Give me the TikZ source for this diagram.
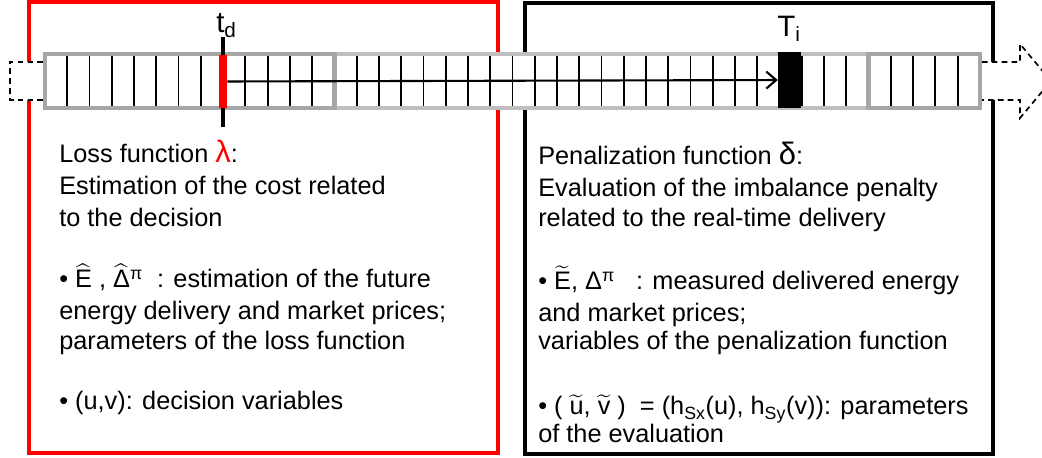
\documentclass[tikz,border=0pt]{standalone}
\usepackage{amsmath}
\usepackage{fontspec}
\setmainfont{Liberation Sans}
\usetikzlibrary{arrows.meta}
\definecolor{barDark}{HTML}{A6A6A6}
\definecolor{barLight}{HTML}{BFBFBF}
\newcommand{\hatsym}[1]{$\widehat{\text{#1}}$}
\newcommand{\tildesym}[1]{$\widetilde{\text{#1}}$}
\newcommand{\bigsym}[1]{{\fontsize{22}{22}\selectfont #1}}

\begin{document}
\begin{tikzpicture}[x=0.025cm, y=-0.025cm,
    txt/.style={anchor=base west, inner sep=0pt, font=\fontsize{18}{22}\selectfont},
    lbl/.style={anchor=base west, inner sep=0pt, font=\fontsize{21}{24}\selectfont},
    frame/.style={line width=2.6pt},
    cellline/.style={line width=1.3pt},
    barline/.style={line width=3.3pt},
    tail/.style={fill=white, draw=black, line width=1.2pt, dash pattern=on 4pt off 3pt}]
    \clip (0,0) rectangle (1042,458);
    % decision phase and delivery phase
    \draw[frame, red] (29,2) rectangle (498,453);
    \draw[frame] (525,3) rectangle (993,454);
    % time line
    \fill[white] (45,54) rectangle (980,108);
    \foreach \i in {1,...,41}
      \draw[cellline] (45+\i*22.26,56) -- (45+\i*22.26,106);
    \draw[barline, barLight] (334.4,54) rectangle (868.6,108);
    \draw[barline, barDark] (45,54) rectangle (334.4,108);
    \draw[barline, barDark] (868.6,54) rectangle (980,108);
    \draw[line width=3.2pt] (223,37) -- (223,127);
    \node[fill=red, inner sep=0pt, minimum width=0.2cm, minimum height=1.325cm] (td) at (223,81.5) {};
    \node[fill=black, inner sep=0pt, minimum width=0.575cm, minimum height=1.4cm] (Ti) at (789.6,80) {};
    \draw[line width=1.5pt, -{Straight Barb[length=7pt, width=12pt]}] (td) -- (Ti);
    \node[lbl] (tdlbl) at (216,33) {t\textsubscript{d}};
    \node[lbl] (Tilbl) at (777,37) {T\textsubscript{i}};
    % before and after
    \filldraw[tail] (43,62) -- (10,62) -- (10,100) -- (43,100);
    \filldraw[tail] (982,62) -- (1020,62) -- (1020,44) -- (1051,81) -- (1020,118) -- (1020,100) -- (982,100);
    % texts
    \foreach \y/\words [count=\n] in {
        163/{Loss function \bigsym{\color{red}λ}:},
        195/{Estimation of the cost related},
        227/{to the decision},
        288/{• \hatsym{E} , \hatsym{Δ}$^{\text{π}}$\ \ : estimation of the future},
        320/{energy delivery and market prices;},
        350/{parameters of the loss function},
        410/{• (u,v): decision variables}}
      \node[txt] (loss-\n) at (59,\y) {\words};
    \foreach \y/\words [count=\n] in {
        165/{Penalization function \bigsym{δ}:},
        197/{Evaluation of the imbalance penalty},
        227/{related to the real-time delivery},
        290/{• \tildesym{E}, Δ$^{\text{π}}$\ \ \ : measured delivered energy},
        322/{and market prices;},
        350/{variables of the penalization function},
        415/{• ( \tildesym{u}, \tildesym{v} )\ \ = (h\textsubscript{Sx}(u), h\textsubscript{Sy}(v)): parameters},
        443/{of the evaluation}}
      \node[txt] (pen-\n) at (538,\y) {\words};
\end{tikzpicture}
\end{document}
